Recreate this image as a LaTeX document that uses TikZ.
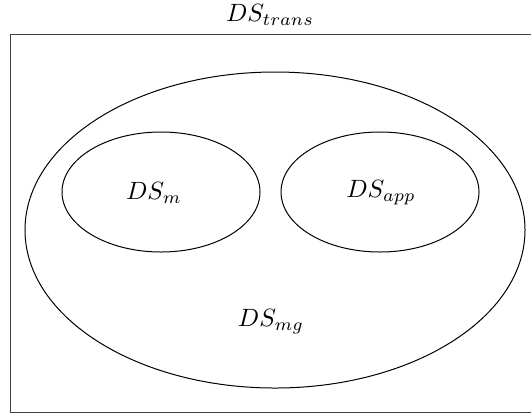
\documentclass[tikz,border=0pt]{standalone}
\usepackage{amsmath}
\usetikzlibrary{shapes.geometric}

\begin{document}
\begin{tikzpicture}[
				x=0.4pt, y=-0.4pt,
				every node/.style={
					inner sep=0pt
				},
				setshape/.style={
					draw, ellipse,
					minimum width=79.2pt,
					minimum height=48pt
				}
				]
				\useasboundingbox (0,0) rectangle (531,414);
				
				% Frame
				\draw[black!75] (10,34) rectangle (534,412);
				\node (trans) at (270,15) {$DS_{trans}$};
				
				% Outer set
				\node[setshape, minimum width=200pt, minimum height=126.4pt] (mg) at (275,230) {};
				\node (mglabel) at (271,322) {$DS_{mg}$};
				
				% Inner sets
				\node[setshape] (m) at (161,192) {};
				\node (mlabel) at (154,193) {$DS_m$};
				
				\node[setshape] (app) at (380,192) {};
				\node (applabel) at (381,193) {$DS_{app}$};
			\end{tikzpicture}
\end{document}
